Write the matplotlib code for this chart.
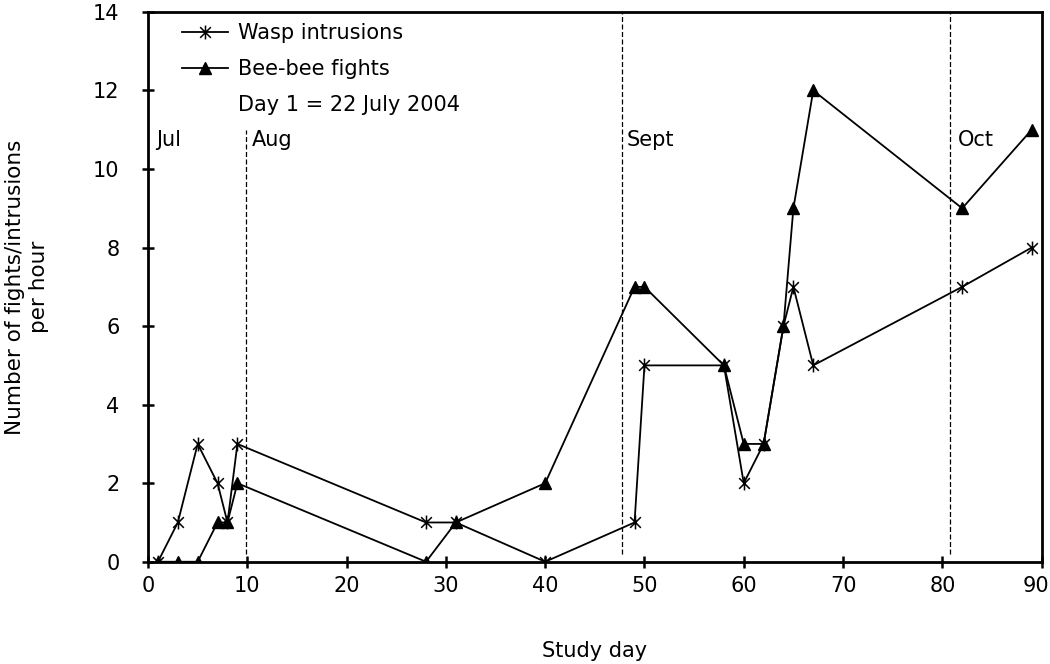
import matplotlib
matplotlib.use("Agg")
import matplotlib.pyplot as plt
import matplotlib.transforms as mtransforms
from matplotlib.path import Path
from matplotlib.lines import Line2D

# --- data ---
days = [1, 3, 5, 7, 8, 9, 28, 31, 40, 49, 50, 58, 60, 62, 64, 65, 67, 82, 89]
wasp = [0, 1, 3, 2, 1, 3, 1, 1, 0, 1, 5, 5, 2, 3, 6, 7, 5, 7, 8]
bee = [0, 0, 0, 1, 1, 2, 0, 1, 2, 7, 7, 5, 3, 3, 6, 9, 12, 9, 11]

month_names = ["Jul", "Aug", "Sept", "Oct"]
month_label_x = [0.8, 10.5, 48.2, 81.6]
month_lines = [9.85, 47.7, 80.8]
month_line_tops = [11.0, 14, 14]

plt.rcParams['font.family'] = ['DejaVu Sans']
plt.rcParams['font.size'] = 15

# Excel-style star marker: X with a vertical bar
star = Path([(-1, -1), (1, 1), (-1, 1), (1, -1), (0, -1.3), (0, 1.3)],
            [Path.MOVETO, Path.LINETO, Path.MOVETO, Path.LINETO, Path.MOVETO, Path.LINETO])

fig = plt.figure(figsize=(10.5, 6.64), dpi=100)
ax = fig.add_axes([0.141, 0.154, 0.851, 0.828])

ax.plot(days, wasp, color='black', lw=1.3, marker=star, ms=10, mew=1.1,
        mfc='none', mec='black', label='Wasp intrusions')
ax.plot(days, bee, color='black', lw=1.3, marker='^', ms=9, mfc='black',
        mec='black', label='Bee-bee fights')

for x, top in zip(month_lines, month_line_tops):
    ax.plot([x, x], [0.2, top], color='black', lw=0.9, ls=(0, (4, 2)))

for name, x in zip(month_names, month_label_x):
    ax.text(x, 10.75, name, ha='left', va='center', fontsize=15)

ax.set_xlim(0, 90)
ax.set_ylim(0, 14)
ax.set_xticks(range(0, 91, 10))
ax.set_yticks(range(0, 15, 2))
ax.tick_params(direction='inout', length=9, width=1.8, labelsize=15)
ax.tick_params(axis='y', pad=16)
ax.tick_params(axis='x', pad=6)
for s in ax.spines.values():
    s.set_linewidth(2)

# last x label sits a little left so it stays inside the figure
last = ax.get_xticklabels()[-1]
last.set_transform(last.get_transform() +
                   mtransforms.ScaledTranslation(-6 / 100, 0, fig.dpi_scale_trans))

ax.set_xlabel('Study day', fontsize=15, labelpad=32)
ax.set_ylabel('Number of fights/intrusions\nper hour', fontsize=15.5, labelpad=32)

handles, labels = ax.get_legend_handles_labels()
handles.append(Line2D([], [], color='none'))
labels.append('Day 1 = 22 July 2004')
ax.legend(handles, labels, loc='upper left', frameon=False, fontsize=15,
          handlelength=2.2, handletextpad=0.5, borderaxespad=0.15,
          labelspacing=0.75, bbox_to_anchor=(0.025, 1.0))

fig.savefig('out.png', dpi=100)
